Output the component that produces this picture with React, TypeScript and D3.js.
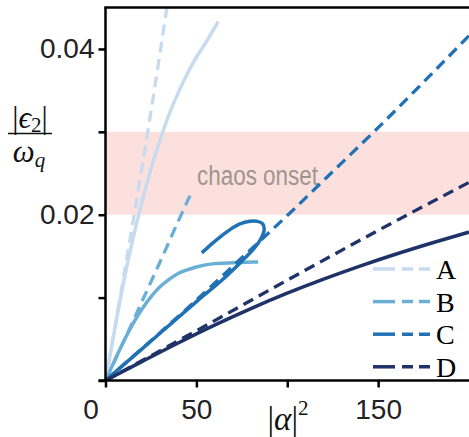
import { useRef, useEffect } from 'react';
import * as d3 from 'd3';

type Pt = [number, number];

// x = |alpha|^2, y = |eps2| / omega_q
const aSolid: Pt[] = [[0, 0], [5, 0.0061], [10, 0.0119], [15, 0.017], [20, 0.0215], [25, 0.0255], [30, 0.029], [35, 0.0321], [40, 0.0347], [45, 0.037], [50, 0.039], [55, 0.0407], [62, 0.0433]];
const aDashed: Pt[] = [[0, 0], [10, 0.0125], [20, 0.0256], [30, 0.0395], [35, 0.0468]];
const bSolid: Pt[] = [[0, 0], [5, 0.0024], [10, 0.0047], [15, 0.0068], [20, 0.0086], [25, 0.0101], [30, 0.0113], [35, 0.0122], [40, 0.0129], [50, 0.0137], [60, 0.0141], [70, 0.0142], [84, 0.0143]];
const bDashed: Pt[] = [[0, 0], [10, 0.0047], [20, 0.0095], [30, 0.0143], [40, 0.0192], [46.5, 0.0223]];
const cSolid: Pt[] = [[0, 0], [30, 0.0057], [51, 0.0097], [64, 0.0121], [75, 0.0144], [82, 0.016], [85.5, 0.0171], [87.3, 0.0182], [86.5, 0.0189], [83.5, 0.0192], [79.5, 0.0192], [74, 0.0189], [68.5, 0.0182], [63, 0.0173], [58, 0.0164], [53, 0.0154]];
const cDashed: Pt[] = [[0, 0], [25, 0.0048], [50, 0.0097], [75, 0.0148], [100, 0.0199], [125, 0.0252], [150, 0.0305], [175, 0.036], [200, 0.0416]];
const dSolid: Pt[] = [[0, 0], [20, 0.00228], [40, 0.00453], [60, 0.00668], [80, 0.00868], [100, 0.01053], [120, 0.01223], [140, 0.0138], [160, 0.01526], [180, 0.01662], [200, 0.0179]];
const dDashed: Pt[] = [[0, 0], [50, 0.006], [100, 0.0121], [150, 0.0181], [200, 0.0239]];

const KEYS = ['A', 'B', 'C', 'D'];
const COLORS = ['#c6dbef', '#6baed6', '#2171b5', '#1f3368'];
const SOLIDS = [aSolid, bSolid, cSolid, dSolid];
const DASHES = [aDashed, bDashed, cDashed, dDashed];

const X_TICKS = [0, 50, 100, 150];
const X_LABELS = ['0', '50', '', '150'];
const Y_TICKS = [0, 0.01, 0.02, 0.03, 0.04];
const Y_LABELS = ['', '', '0.02', '', '0.04'];
const CHAOS_BAND = [0.02, 0.03];

export default function App() {
  const svgRef = useRef<SVGSVGElement>(null);
  const width = 469;
  const height = 437;

  useEffect(() => {
    const svg = d3.select(svgRef.current);
    svg.selectAll('*').remove();

    const x = d3.scaleLinear().domain([0, 200]).range([105.5, 469]);
    const y = d3.scaleLinear().domain([0, 0.045]).range([380.5, 7.5]);
    const sans = '"Liberation Sans", Arial, sans-serif';
    const serif = '"Liberation Serif", "DejaVu Serif", serif';

    svg.append('defs').append('clipPath').attr('id', 'plot-clip')
      .append('rect')
      .attr('x', x(0)).attr('y', y(0.045))
      .attr('width', x(200) - x(0)).attr('height', y(0) - y(0.045));

    // chaos onset band
    svg.append('rect')
      .attr('x', x(0))
      .attr('y', y(CHAOS_BAND[1]))
      .attr('width', x(200) - x(0))
      .attr('height', y(CHAOS_BAND[0]) - y(CHAOS_BAND[1]))
      .attr('fill', '#fce0de');

    svg.append('text')
      .attr('x', 197).attr('y', 185)
      .attr('font-family', sans).attr('font-size', 27)
      .attr('textLength', 121).attr('lengthAdjust', 'spacingAndGlyphs')
      .attr('fill', '#a1948f')
      .text('chaos onset');

    const smooth = d3.line<Pt>()
      .x((d) => x(d[0]))
      .y((d) => y(d[1]))
      .curve(d3.curveMonotoneX);
    const loop = d3.line<Pt>()
      .x((d) => x(d[0]))
      .y((d) => y(d[1]))
      .curve(d3.curveCatmullRom.alpha(0.5));

    const g = svg.append('g').attr('clip-path', 'url(#plot-clip)');

    SOLIDS.forEach((s, i) => {
      g.append('path').attr('d', (i === 2 ? loop : smooth)(s)).attr('fill', 'none')
        .attr('stroke', COLORS[i]).attr('stroke-width', 3.5);
    });
    DASHES.forEach((s, i) => {
      g.append('path').attr('d', smooth(s)).attr('fill', 'none')
        .attr('stroke', COLORS[i]).attr('stroke-width', 3.3)
        .attr('stroke-dasharray', '11,6.5');
    });

    // axes
    const xAxis = svg.append('g')
      .attr('transform', `translate(0,${y(0)})`)
      .call(d3.axisBottom(x).tickValues(X_TICKS).tickSize(7).tickSizeOuter(0).tickPadding(12)
        .tickFormat((_d, i) => X_LABELS[i]));
    xAxis.select('.domain').attr('d', `M${x(0) - 7},0H${x(200)}`);

    const yAxis = svg.append('g')
      .attr('transform', `translate(${x(0)},0)`)
      .call(d3.axisLeft(y).tickValues(Y_TICKS).tickSize(7).tickSizeOuter(0).tickPadding(4)
        .tickFormat((_d, i) => Y_LABELS[i]));
    yAxis.select('.domain').attr('d', `M0,${y(0)}V${y(0.045)}`);

    [xAxis, yAxis].forEach((ax) => {
      ax.selectAll('.domain, .tick line').attr('stroke', '#000').attr('stroke-width', 2.5);
      ax.selectAll('text').attr('fill', '#222').style('font-size', '28px').style('font-family', sans);
    });
    xAxis.selectAll('.tick text').filter((_d, i) => i === 0).attr('dx', -15);

    // top frame line
    svg.append('line')
      .attr('x1', x(0) - 1.25).attr('x2', x(200))
      .attr('y1', y(0.045)).attr('y2', y(0.045))
      .attr('stroke', '#000').attr('stroke-width', 2.5);

    // y label: |eps2| / omega_q
    const yl = svg.append('g').attr('font-family', serif).attr('fill', '#111');
    const num = yl.append('text').attr('x', 30).attr('y', 128).attr('text-anchor', 'middle').attr('font-size', 31);
    num.append('tspan').text('|');
    num.append('tspan').attr('font-style', 'italic').text('ϵ');
    num.append('tspan').attr('font-size', 21).attr('dy', 4).text('2');
    num.append('tspan').attr('dy', -4).text('|');
    yl.append('line').attr('x1', 8).attr('x2', 52).attr('y1', 133.5).attr('y2', 133.5)
      .attr('stroke', '#111').attr('stroke-width', 1.6);
    const den = yl.append('text').attr('x', 29).attr('y', 162).attr('text-anchor', 'middle').attr('font-size', 31);
    den.append('tspan').attr('font-style', 'italic').text('ω');
    den.append('tspan').attr('font-style', 'italic').attr('font-size', 21).attr('dy', 5).text('q');

    // x label: |alpha|^2
    const xl = svg.append('text').attr('x', 288).attr('y', 430).attr('text-anchor', 'middle')
      .attr('font-family', serif).attr('font-size', 33).attr('fill', '#111');
    xl.append('tspan').text('|');
    xl.append('tspan').attr('font-style', 'italic').text('α');
    xl.append('tspan').text('|');
    xl.append('tspan').attr('font-size', 21).attr('dy', -15).text('2');

    // legend
    KEYS.forEach((k, i) => {
      const ly = 269 + i * 32.6;
      const lg = svg.append('g');
      lg.append('line').attr('x1', 373).attr('x2', 395).attr('y1', ly).attr('y2', ly)
        .attr('stroke', COLORS[i]).attr('stroke-width', 3.5);
      lg.append('line').attr('x1', 402).attr('x2', 430).attr('y1', ly).attr('y2', ly)
        .attr('stroke', COLORS[i]).attr('stroke-width', 3.5).attr('stroke-dasharray', '11,6');
      lg.append('text').attr('x', 436).attr('y', ly).attr('dy', '0.36em')
        .attr('font-family', serif).attr('font-size', 28).attr('fill', '#000')
        .text(k);
    });
  }, []);

  return (
    <svg
      ref={svgRef}
      width={width}
      height={height}
      style={{ position: 'absolute', left: 0, top: 0, background: '#fff' }}
    />
  );
}
